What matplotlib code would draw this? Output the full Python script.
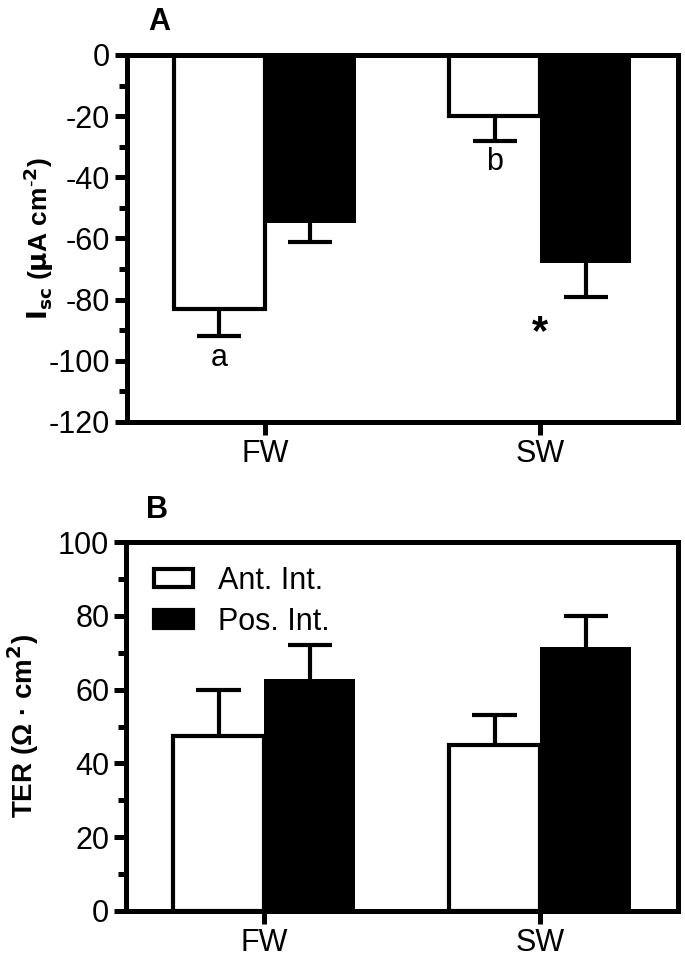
import numpy as np
import matplotlib
matplotlib.use("Agg")
import matplotlib.pyplot as plt
from matplotlib.patches import Patch
from matplotlib.ticker import MultipleLocator

plt.rcParams['font.family'] = ['Liberation Sans', 'DejaVu Sans']
plt.rcParams['axes.unicode_minus'] = False

# Données
groups = ["FW", "SW"]
series = ["Ant. Int.", "Pos. Int."]
isc_ant = [-83, -20]
isc_ant_err = [9, 8]
isc_pos = [-55, -68]
isc_pos_err = [6, 11]
ter_ant = [47.5, 45]
ter_ant_err = [12.5, 8]
ter_pos = [63, 71.5]
ter_pos_err = [9, 8.5]
isc_letters = [("a", 0, -99), ("b", 1, -35)]
isc_star = (1, -91)

fs = 22
lw_spine = 3.6
x = np.arange(len(groups))
w = 0.33

fig = plt.figure(figsize=(6.85, 9.71), dpi=100)


def style_axes(ax):
    for s in ax.spines.values():
        s.set_linewidth(lw_spine)
    ax.tick_params(axis='both', which='major', length=9, width=lw_spine, labelsize=fs, direction='out', pad=3)
    ax.tick_params(axis='y', which='minor', length=6, width=lw_spine, direction='out')
    ax.tick_params(axis='x', which='minor', length=0)
    ax.set_xticks(x)
    ax.set_xticklabels(groups)
    ax.set_xlim(-0.5, 1.5)


def draw_bars(ax, ant, ant_err, pos, pos_err, sign):
    # barres d'erreur dans une seule direction (sign = -1 vers le bas, +1 vers le haut)
    ax.bar(x - w / 2, ant, width=w, color="white", edgecolor="black", linewidth=3, zorder=2)
    ax.bar(x + w / 2, pos, width=w, color="black", edgecolor="black", linewidth=0, zorder=2)
    for xs, vals, errs in [(x - w / 2, ant, ant_err), (x + w / 2, pos, pos_err)]:
        tips = np.array(vals) + sign * np.array(errs)
        ax.vlines(xs, vals, tips, color='black', linewidth=3, zorder=1)
        ax.hlines(tips, xs - 0.08, xs + 0.08, color='black', linewidth=3, zorder=1)


# Panneau A
axA = fig.add_axes([0.1854, 0.5654, 0.8044, 0.378])
draw_bars(axA, isc_ant, isc_ant_err, isc_pos, isc_pos_err, sign=-1)
axA.set_ylim(-120, 0)
axA.yaxis.set_major_locator(MultipleLocator(20))
axA.yaxis.set_minor_locator(MultipleLocator(10))
style_axes(axA)
axA.set_ylabel(r"$\mathbf{I_{sc}}$ ($\mathbf{\mu}$A cm$^{\mathbf{\text{-}2}}$)", fontsize=19,
               fontweight='bold', labelpad=-5)
for txt, gi, yv in isc_letters:
    axA.text(gi - w / 2, yv, txt, ha='center', va='center', fontsize=fs)
axA.text(isc_star[0], isc_star[1], "*", ha='center', va='center', fontsize=fs + 8, fontweight='bold')
fig.text(0.233, 0.977, "A", fontsize=fs, fontweight='bold', ha='center', va='center')

# Panneau B
axB = fig.add_axes([0.184, 0.0618, 0.806, 0.380])
draw_bars(axB, ter_ant, ter_ant_err, ter_pos, ter_pos_err, sign=1)
axB.set_ylim(0, 100)
axB.yaxis.set_major_locator(MultipleLocator(20))
axB.yaxis.set_minor_locator(MultipleLocator(10))
style_axes(axB)
axB.set_ylabel("TER (Ω · cm$^{\\mathbf{2}}$)", fontsize=20, fontweight='bold', labelpad=12)
handles = [Patch(facecolor='white', edgecolor='black', linewidth=3),
           Patch(facecolor='black', edgecolor='black', linewidth=3)]
axB.legend(handles, series, loc='upper left', bbox_to_anchor=(0.0, 1.01), frameon=False,
           fontsize=fs, handlelength=1.3, handleheight=0.55, handletextpad=0.8, labelspacing=0.35)
fig.text(0.229, 0.475, "B", fontsize=fs, fontweight='bold', ha='center', va='center')

fig.savefig("out.png", dpi=100)
